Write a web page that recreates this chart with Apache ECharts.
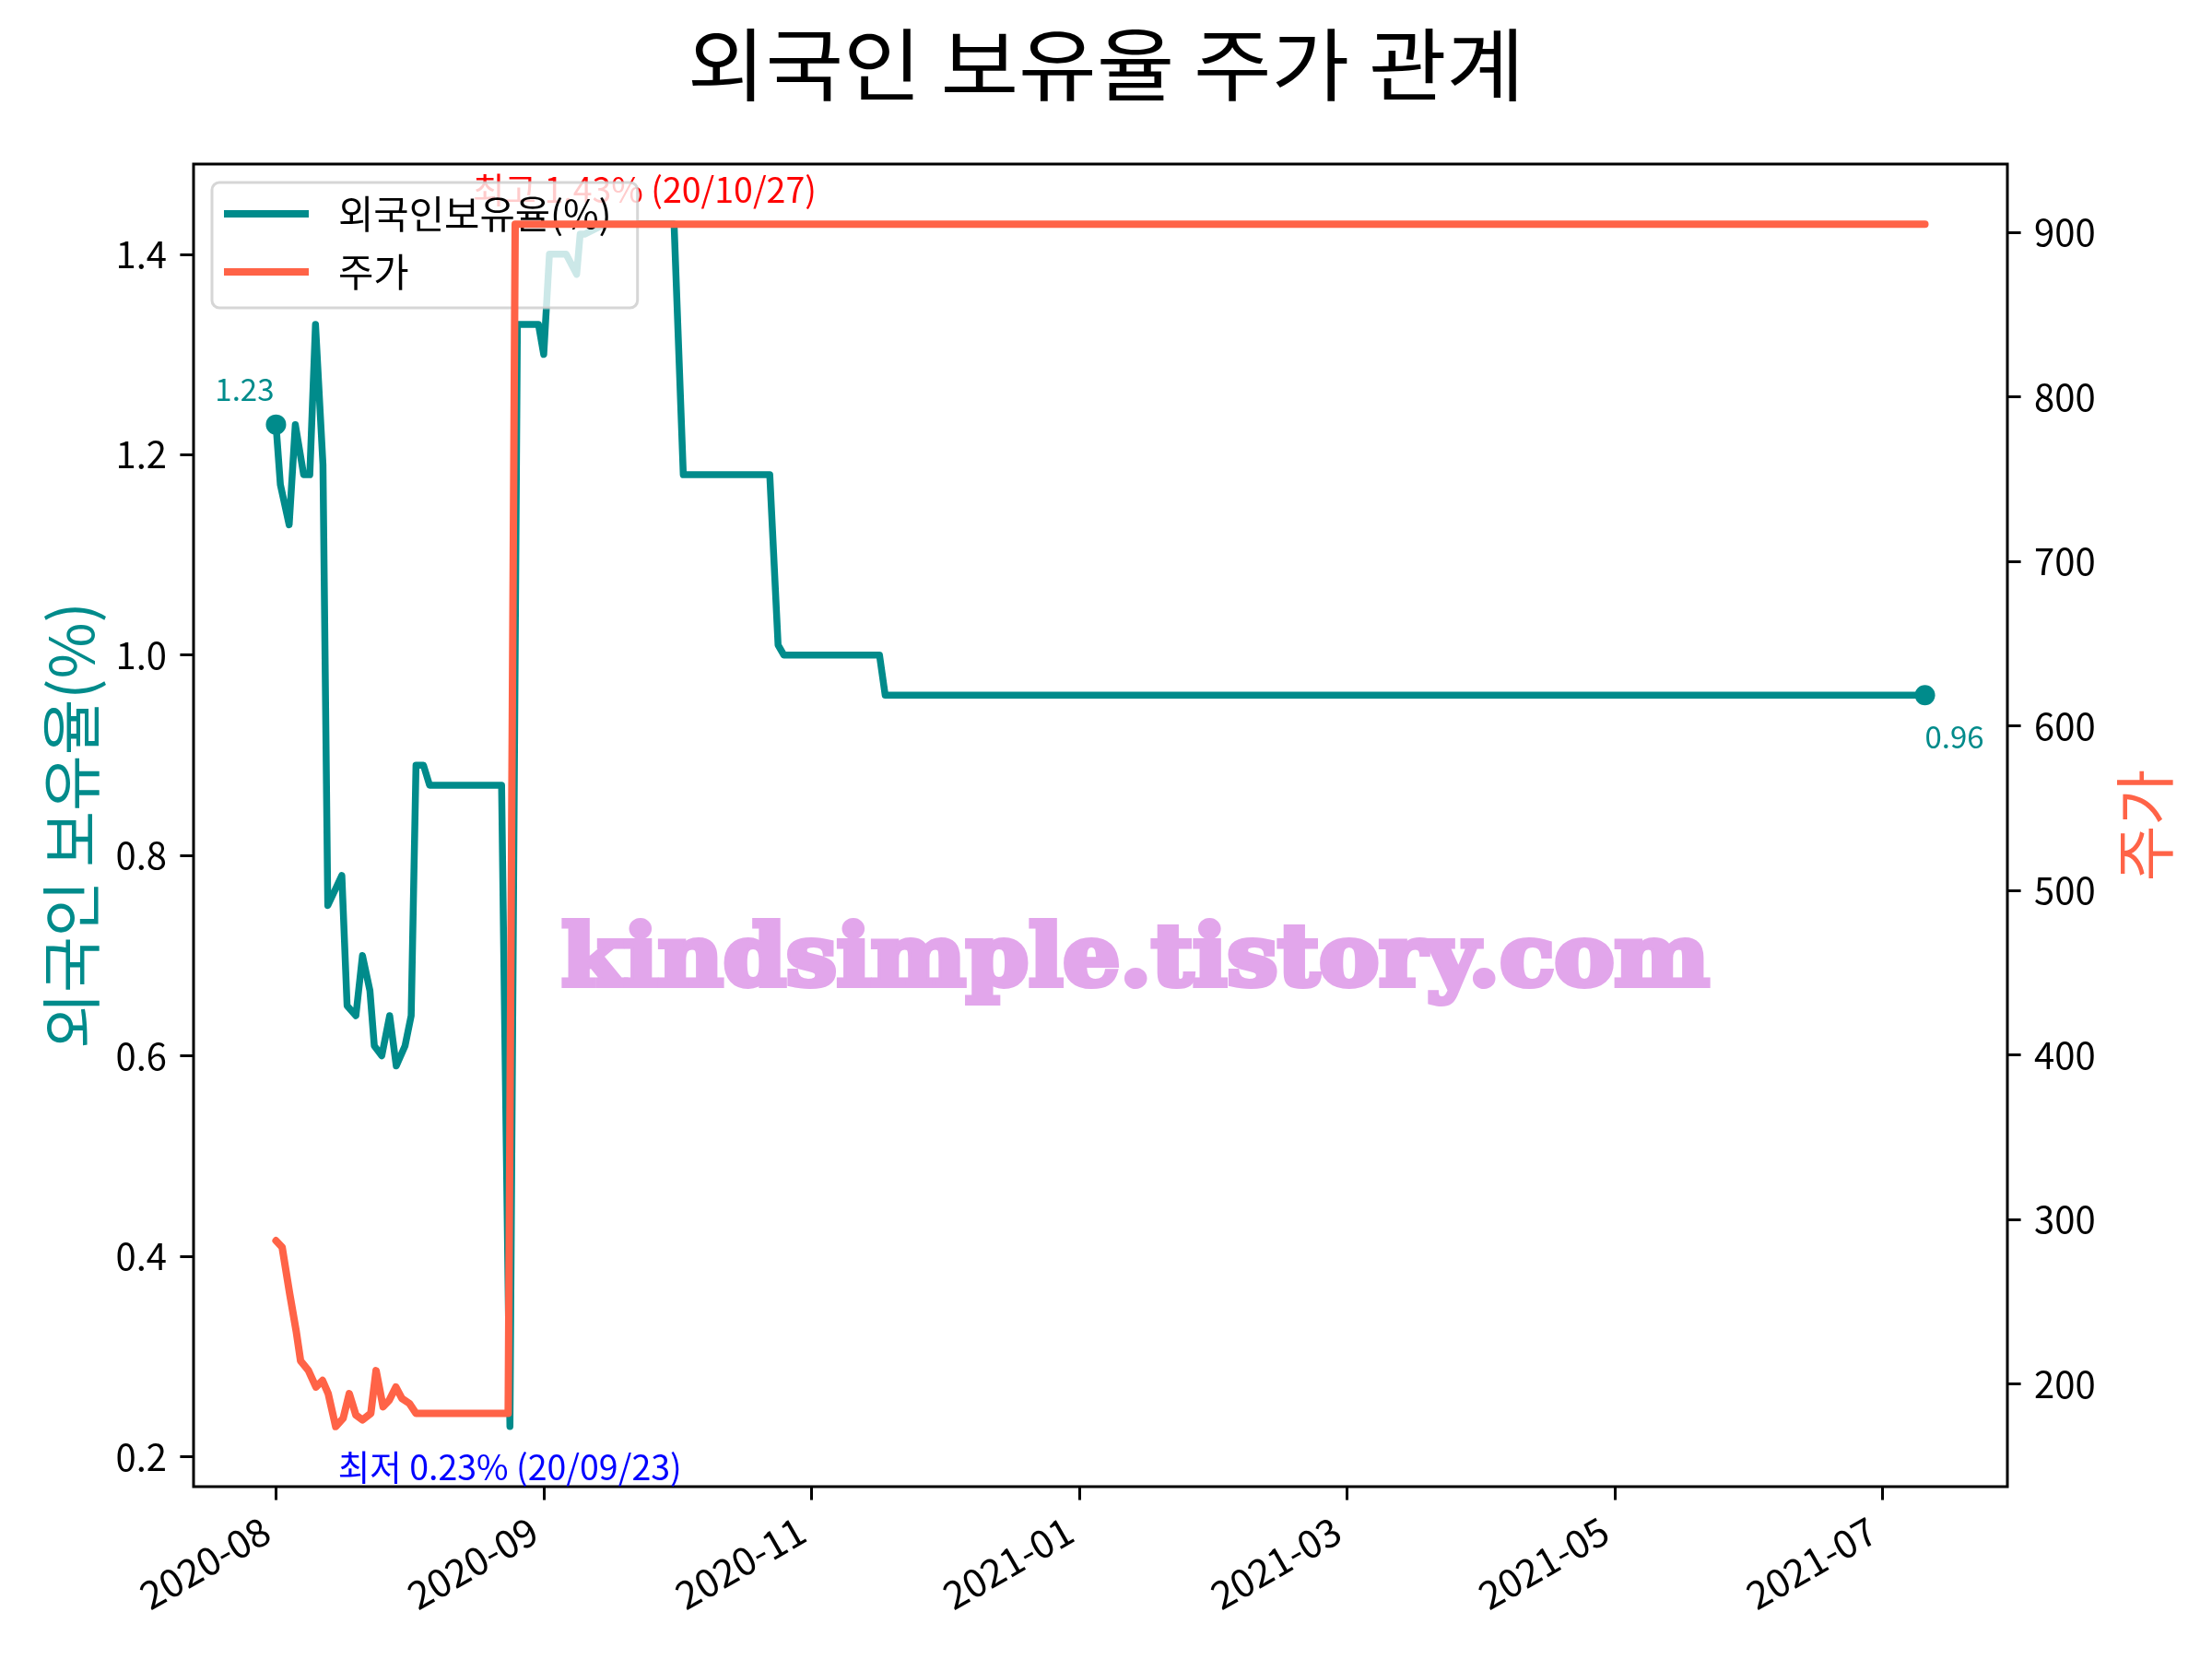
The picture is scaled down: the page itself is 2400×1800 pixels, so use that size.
<!DOCTYPE html>
<html><head><meta charset="utf-8">
<script src="https://cdn.jsdelivr.net/npm/echarts@6/dist/echarts.min.js"></script>
<style>html,body{margin:0;padding:0;background:#fff}#c{width:2400px;height:1800px}</style>
</head><body><div id="c"></div>
<script>
// ---- data ----
const ratioDays = [0, 1, 3, 4.4, 6.3, 7.7, 9, 10.7, 11.8, 15, 16.2, 18.2, 19.7, 21.4, 22.4, 24.1, 25.9, 27.4, 29.4, 30.8, 31.9, 33.6, 35, 51.4, 53.3, 55, 59.8, 61, 62.3, 66.1, 68.5, 69.3, 70.3, 74.9, 84, 90.7, 92.8, 112.5, 114.4, 115.7, 137.5, 138.8, 375.7];
const ratioValues = [1.23, 1.17, 1.13, 1.23, 1.18, 1.18, 1.33, 1.19, 0.75, 0.78, 0.65, 0.64, 0.70, 0.665, 0.61, 0.60, 0.64, 0.59, 0.61, 0.64, 0.89, 0.89, 0.87, 0.87, 0.23, 1.33, 1.33, 1.30, 1.40, 1.40, 1.38, 1.42, 1.42, 1.43, 1.43, 1.43, 1.18, 1.18, 1.01, 1.00, 1.00, 0.96, 0.96];
const priceDays = [0, 1.4, 3.1, 4.6, 5.6, 7.4, 9.1, 10.6, 11.9, 13.6, 15.3, 16.7, 18.2, 19.7, 21.6, 22.8, 24.4, 25.8, 27.3, 28.7, 30.4, 31.9, 52.9, 54.5, 375.7];
const priceValues = [287, 283, 255, 232, 214, 208, 198, 202, 194, 174, 179, 194, 181, 178, 182, 208, 186, 190, 198, 191, 188, 182, 182, 905, 905];
const xTickDays = [0, 61, 122, 183, 244, 305, 366];
const xTickLabels = ['2020-08', '2020-09', '2020-11', '2021-01', '2021-03', '2021-05', '2021-07'];
const ratioTicks = [0.2, 0.4, 0.6, 0.8, 1.0, 1.2, 1.4];
const priceTicks = [200, 300, 400, 500, 600, 700, 800, 900];
const seriesNames = ['외국인보유율(%)', '주가'];
const titleText = '외국인 보유율 주가 관계';
const leftAxisName = '외국인 보유율(%)';
const rightAxisName = '주가';
const lowText = '최저 0.23% (20/09/23)';
const highText = '최고 1.43% (20/10/27)';
const highDay = 84;
const watermark = 'kindsimple.tistory.com';

// ---- styling ----
const TEAL = '#008B8B', TOMATO = '#FF6347';
const FONT = '"Noto Sans CJK KR", "Noto Sans", sans-serif';
function padExtent(arr) {
  const mn = Math.min(...arr), mx = Math.max(...arr), r = mx - mn;
  return [mn - 0.05 * r, mx + 0.05 * r];
}
const xExt = padExtent(ratioDays.concat(priceDays));
const rExt = padExtent(ratioValues);
const pExt = padExtent(priceValues);

const ratioData = ratioDays.map((d, i) => [d, ratioValues[i]]);
const priceData = priceDays.map((d, i) => [d, priceValues[i]]);
const last = ratioData.length - 1;
const minIdx = ratioValues.indexOf(Math.min(...ratioValues));
const highIdx = ratioDays.indexOf(highDay);

const axisTickStyle = { show: true, inside: false, length: 14.6, lineStyle: { color: '#000', width: 3 } };
const noLine = { show: false, onZero: false };

const chart = echarts.init(document.getElementById('c'), null, { renderer: 'canvas' });
chart.setOption({
  animation: false,
  backgroundColor: '#fff',
  textStyle: { fontFamily: FONT },
  grid: { left: 210, top: 178, width: 1968, height: 1435, show: true, borderColor: '#000', borderWidth: 3, backgroundColor: 'transparent' },
  legend: {
    data: seriesNames, orient: 'vertical', left: 230, top: 198,
    padding: [13, 28, 18, 13], itemWidth: 92, itemHeight: 8, itemGap: 21, icon: 'rect',
    backgroundColor: 'rgba(255,255,255,0.8)', borderColor: 'rgba(204,204,204,0.8)', borderWidth: 3, borderRadius: 8,
    textStyle: { fontFamily: FONT, fontSize: 41.7, color: '#000', lineHeight: 42, padding: [0, 0, 0, 27] },
    z: 4
  },
  xAxis: {
    type: 'value', min: xExt[0], max: xExt[1],
    axisLine: noLine, splitLine: { show: false },
    axisTick: Object.assign({ customValues: xTickDays }, axisTickStyle),
    axisLabel: {
      customValues: xTickDays, rotate: 30, margin: 38, color: '#000', fontSize: 42, fontFamily: FONT,
      padding: [0, 12, 0, 0],
      formatter: v => { const i = xTickDays.indexOf(v); return i >= 0 ? xTickLabels[i] : ''; }
    }
  },
  yAxis: [{
    type: 'value', position: 'left', min: rExt[0], max: rExt[1],
    axisLine: noLine, splitLine: { show: false },
    axisTick: Object.assign({ customValues: ratioTicks }, axisTickStyle),
    axisLabel: { customValues: ratioTicks, margin: 29, color: '#000', fontSize: 40, fontFamily: FONT, formatter: v => v.toFixed(1) },
    name: leftAxisName, nameLocation: 'middle', nameRotate: 90, nameGap: 100,
    nameTextStyle: { color: TEAL, fontSize: 66, fontFamily: FONT }
  }, {
    type: 'value', position: 'right', min: pExt[0], max: pExt[1],
    axisLine: noLine, splitLine: { show: false },
    axisTick: Object.assign({ customValues: priceTicks }, axisTickStyle),
    axisLabel: { customValues: priceTicks, margin: 29, color: '#000', fontSize: 40, fontFamily: FONT, formatter: v => String(Math.round(v)) },
    name: rightAxisName, nameLocation: 'middle', nameRotate: 90, nameGap: 116,
    nameTextStyle: { color: TOMATO, fontSize: 66, fontFamily: FONT }
  }],
  series: [{
    name: seriesNames[0], type: 'line', yAxisIndex: 0, data: ratioData,
    symbol: 'none', color: TEAL, z: 2,
    lineStyle: { color: TEAL, width: 7.5, join: 'round', cap: 'round' }
  }, {
    name: seriesNames[1], type: 'line', yAxisIndex: 1, data: priceData,
    symbol: 'none', color: TOMATO, z: 5,
    lineStyle: { color: TOMATO, width: 8, join: 'round', cap: 'round' }
  }, {
    name: 'ends', type: 'scatter', yAxisIndex: 0, z: 2, symbol: 'circle', symbolSize: 22,
    itemStyle: { color: TEAL, opacity: 1 },
    data: [
      { value: ratioData[0], label: { show: true, position: 'top', align: 'right', offset: [-2, -6], formatter: p => p.value[1].toFixed(2), color: TEAL, fontSize: 33, lineHeight: 33, fontFamily: FONT } },
      { value: ratioData[last], label: { show: true, position: 'bottom', align: 'left', offset: [0, 13], formatter: p => p.value[1].toFixed(2), color: TEAL, fontSize: 33, lineHeight: 33, fontFamily: FONT } }
    ]
  }, {
    name: 'notes', type: 'scatter', yAxisIndex: 0, z: 2, symbolSize: 0,
    itemStyle: { color: 'rgba(0,0,0,0)', opacity: 1 },
    data: [
      { value: ratioData[minIdx], label: { show: true, position: 'bottom', offset: [0, 20], formatter: lowText, color: '#0000FF', fontSize: 37.5, lineHeight: 38, fontFamily: FONT } },
      { value: ratioData[highIdx], label: { show: true, position: 'top', offset: [0, -13], formatter: highText, color: '#FF0000', fontSize: 37.5, lineHeight: 38, fontFamily: FONT } }
    ]
  }],
  graphic: [{
    type: 'text', x: 1200, y: 70, z: 100, scaleX: 1.07,
    style: { text: titleText, font: '86px "Noto Sans CJK KR"', fill: '#000', align: 'center', verticalAlign: 'middle' }
  }, {
    type: 'text', x: 1232, y: 1045, z: 100, scaleX: 1.06,
    style: { text: watermark, font: 'bold 92px "DejaVu Serif"', fill: '#E2A6EB', stroke: '#E2A6EB', lineWidth: 6, align: 'center', verticalAlign: 'middle' }
  }]
});
</script></body></html>
